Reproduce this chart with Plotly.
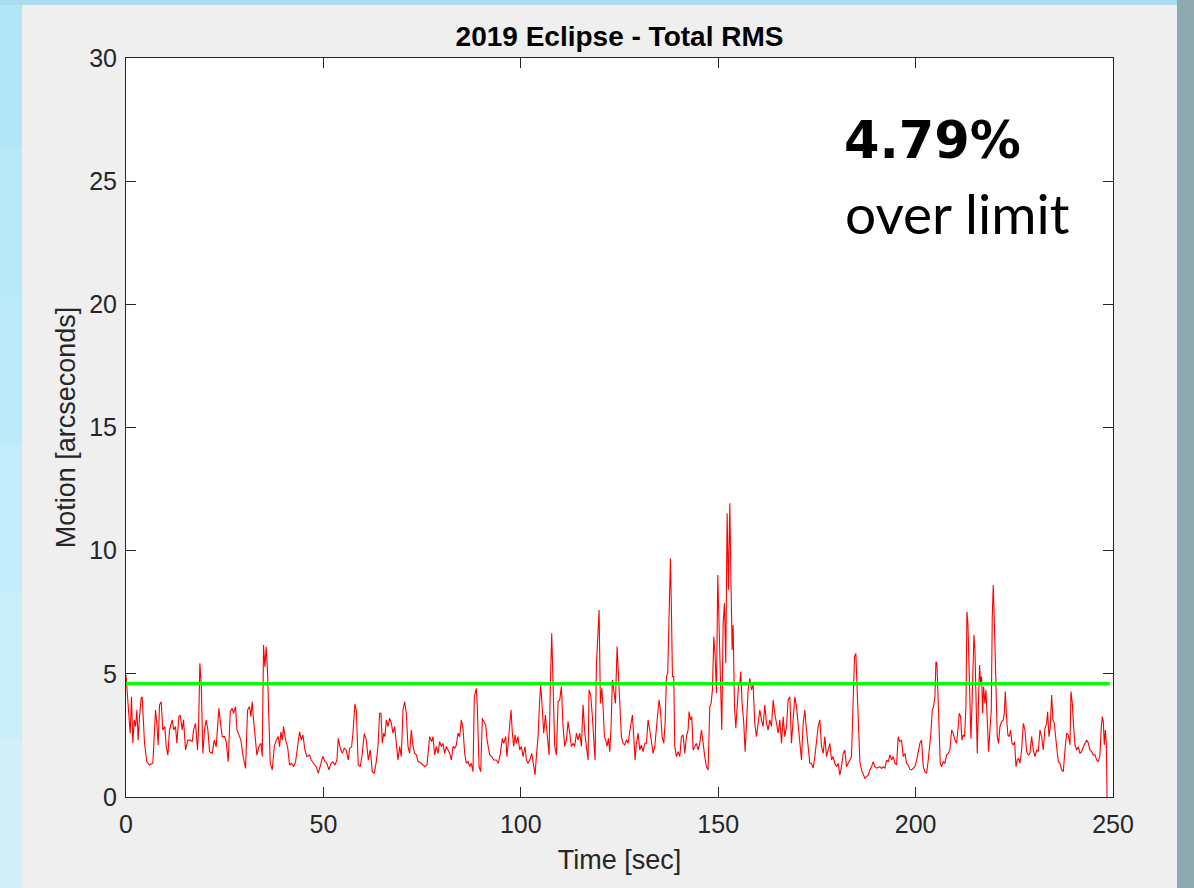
import plotly.graph_objects as go

# ---- Total RMS pointing motion, 2019 eclipse run ----
time_sec = [
    0.0, 0.21, 0.72, 1.06, 1.39, 1.73, 2.07, 2.41, 2.75, 3.08, 3.42, 3.84, 4.10, 4.69, 5.28, 5.96, 6.80,
    7.48, 7.81, 8.15, 8.49, 8.91, 9.33, 9.84, 10.18, 10.60, 11.02, 11.70, 12.12, 12.54, 12.88, 13.39,
    13.73, 14.23, 14.57, 15.08, 15.67, 16.26, 16.77, 17.11, 17.61, 18.12, 18.37, 18.71, 19.05, 19.47,
    19.89, 20.32, 20.74, 21.16, 21.84, 22.34, 22.85, 23.52, 23.95, 24.37, 24.96, 25.38, 25.89, 26.40,
    26.90, 27.24, 27.75, 28.09, 28.59, 29.10, 29.61, 30.28, 30.79, 31.29, 31.63, 31.97, 32.31, 32.82,
    33.15, 33.66, 34.17, 34.51, 34.84, 35.18, 35.52, 35.86, 36.20, 36.53, 37.04, 37.55, 38.05, 38.56,
    38.90, 39.24, 39.58, 39.91, 40.42, 40.93, 41.43, 41.94, 42.45, 42.95, 43.46, 43.97, 44.39, 44.81,
    45.32, 45.83, 46.50, 46.92, 47.52, 48.19, 48.70, 49.20, 49.88, 50.38, 50.89, 51.40, 51.91, 52.41,
    52.92, 53.43, 53.77, 54.27, 54.78, 55.29, 55.79, 56.30, 56.64, 57.14, 57.48, 57.99, 58.33, 58.83,
    59.34, 59.85, 60.35, 60.86, 61.37, 61.87, 62.38, 62.89, 63.39,
    63.82, 64.24, 64.58, 64.92, 65.26, 65.60, 65.93, 66.36, 66.78, 67.20, 67.62, 68.05, 68.47, 68.89,
    69.31, 69.73, 70.16, 70.58, 71.00, 71.42, 71.85, 72.27, 72.69, 73.11, 73.54, 73.96, 74.80, 75.65,
    76.24, 76.91, 77.42, 77.76, 78.18, 78.60, 79.03, 79.45, 79.87, 80.29, 80.72, 81.14, 81.56, 81.98,
    82.41, 82.83, 83.25, 83.67, 84.10, 84.52, 84.94, 85.36, 85.78, 86.21, 86.63, 87.05, 87.47, 87.90,
    88.23, 88.74, 88.99, 89.42, 89.84, 90.26, 90.60, 91.11, 91.44, 91.78, 92.12, 92.63, 93.13, 93.81,
    94.31, 94.82, 95.33, 95.67, 96.17, 96.51, 97.02, 97.52, 97.86, 98.20, 98.54, 98.88, 99.30, 99.72,
    100.14, 100.57, 101.07, 101.41, 101.83, 102.26, 102.76, 103.27, 103.61, 103.95, 104.37, 104.79,
    105.04, 105.47, 105.80, 106.23, 106.65, 107.16, 107.49, 107.83, 108.17, 108.59, 109.01, 109.44,
    109.86, 110.28, 110.70, 111.12, 111.55, 111.97, 112.39, 112.81, 113.24, 113.66, 114.08, 114.50,
    114.93, 115.35, 115.77, 116.19, 116.62, 117.04, 117.29, 117.71, 118.13, 118.47, 118.81, 119.15,
    119.49, 119.83, 120.16, 120.50, 120.84, 121.18, 121.52, 121.85, 122.19, 122.53, 122.87, 123.20,
    123.54, 123.97, 124.39, 124.73, 125.06, 125.49, 125.91, 126.33, 126.75, 127.18,
    127.59, 128.02, 128.27, 128.61, 128.95, 129.28, 129.71, 130.13, 130.55, 130.97, 131.40, 131.82,
    132.24, 132.66, 133.08, 133.51, 133.93, 134.35, 134.77, 135.03, 135.37, 135.79, 136.21, 136.55,
    136.89, 137.22, 137.56, 137.90, 138.15, 138.41, 138.74, 139.00, 139.42, 139.84, 140.26, 140.69,
    141.11, 141.53, 141.95, 142.38, 142.63, 142.97, 143.31, 143.64, 144.07, 144.49, 144.91, 145.33,
    145.76, 146.18, 146.60, 147.02, 147.44, 147.87, 148.20, 148.54, 148.88, 149.22, 149.56, 149.89,
    150.23, 150.57, 150.91, 151.25, 151.58, 151.92, 152.26, 152.60, 152.94, 153.27, 153.53, 153.78,
    154.12, 154.46, 154.79, 155.13, 155.47, 155.72, 156.06, 156.48, 156.82, 157.16, 157.58, 158.00,
    158.43, 158.85, 159.27, 159.69, 160.12, 160.54, 160.96, 161.38, 161.80, 162.23, 162.65, 163.07,
    163.49, 163.92, 164.34, 164.76, 165.18, 165.61, 166.03, 166.45, 166.87, 167.30, 167.72, 168.14,
    168.56, 168.98, 169.41, 169.83, 170.25, 170.67, 171.10, 171.52, 171.94, 172.36, 172.79, 173.21,
    173.63, 174.05, 174.48, 174.90, 175.32, 175.74, 176.17, 176.59, 177.01, 177.43, 177.85, 178.28,
    178.70, 179.12, 179.54, 179.97, 180.39, 180.81, 181.23, 181.66, 182.08, 182.50, 182.92, 183.34,
    183.77, 184.19, 184.53, 184.86, 185.20, 185.54, 185.88, 186.30, 186.72, 187.15, 187.57, 187.99,
    188.41, 188.84, 189.26, 189.68, 190.10, 190.95,
    191.38, 191.80, 192.22, 192.64, 193.07, 193.49, 193.91, 194.33, 194.76, 195.18, 195.60, 196.02,
    196.44, 196.87, 197.29, 197.71, 198.13, 198.56, 198.98, 199.40, 199.82, 200.25, 200.67, 201.09,
    201.51, 201.94, 202.36, 202.78, 203.20, 203.62, 203.88, 204.22, 204.55, 204.89, 205.15, 205.40,
    205.65, 205.99, 206.24, 206.58, 207.00, 207.43, 207.85, 208.27, 208.69, 209.12, 209.54, 209.96,
    210.38, 210.80, 211.06, 211.40, 211.73, 212.07, 212.41, 212.75, 213.00, 213.25, 213.51, 213.76,
    214.01, 214.27, 214.52, 214.78, 215.03, 215.28, 215.62, 215.96, 216.21, 216.46, 216.72, 216.97,
    217.22, 217.56, 217.82, 218.15, 218.49, 218.83, 219.17, 219.42, 219.67, 219.93, 220.18, 220.43,
    220.69, 221.03, 221.36, 221.79, 222.21, 222.46, 222.72, 223.05, 223.39, 223.73, 224.07, 224.40,
    224.74, 225.08, 225.42, 225.76, 226.09, 226.43, 226.85, 227.28, 227.70, 228.12, 228.54, 228.97,
    229.39, 229.81, 230.23, 230.66, 231.08, 231.50, 231.92, 232.34, 232.77, 233.19, 233.44, 233.78,
    234.12, 234.46, 234.79, 235.13, 235.47, 235.81, 236.15, 236.57, 236.99, 237.41, 237.84, 238.26,
    238.68, 239.10, 239.35, 239.69, 240.03, 240.37, 240.79, 241.21, 241.64, 242.06, 242.48, 242.90,
    243.33, 243.75, 244.17, 244.59, 245.01, 245.44, 245.86, 246.28, 246.70, 247.04, 247.30, 247.55,
    247.80, 248.06, 248.31, 248.50,
]

motion_arcsec = [
    4.95, 4.41, 3.53, 2.58, 4.07, 2.18, 3.13, 2.86, 3.53, 2.31, 3.26, 4.01, 4.07, 2.18, 1.43, 1.30, 1.37,
    3.53, 2.99, 2.11, 3.74, 3.87, 2.72, 2.86, 2.04, 1.70, 2.72, 3.13, 2.72, 2.86, 2.18, 3.26,
    3.33, 2.72, 3.13, 1.91, 2.31, 2.31, 2.25, 2.72, 2.99, 1.91, 2.72, 5.43, 4.61, 1.77,
    2.72, 3.13, 2.72, 1.84, 1.77, 2.31, 2.04, 3.60, 2.99, 2.45, 2.45, 2.25, 1.43, 3.46,
    3.60, 3.40, 3.67, 2.72, 2.52, 2.31, 1.70, 1.16, 3.53, 3.67, 3.26, 3.87, 3.13, 2.04,
    1.70, 2.04, 2.18, 1.64, 6.17, 5.29, 6.10, 5.02, 2.72, 1.37, 1.10, 2.04, 2.31, 2.45,
    2.04, 2.65, 2.31, 2.86, 2.31, 2.04, 1.30, 1.37, 1.23, 1.43, 2.04, 2.65, 2.31, 2.52,
    1.91, 1.64, 1.70, 1.50, 1.37, 1.23, 0.96, 1.30, 1.66, 1.43, 1.37, 1.10, 1.37, 1.43,
    1.30, 1.50, 2.38, 1.98, 1.77, 1.98, 1.91, 1.50, 1.98, 2.04, 2.58, 3.78, 3.53, 1.30,
    1.23, 1.77, 2.58, 2.31, 1.50, 1.91, 1.03, 0.96, 1.43,
    2.05, 3.40, 3.40, 2.18, 2.59, 2.45, 3.13, 2.86, 3.20, 3.00, 2.59, 2.86, 2.18, 1.50,
    2.05, 1.64, 3.53, 3.87, 3.40, 2.05, 1.77, 2.72, 2.05, 1.77, 1.71, 1.44, 1.37, 1.23,
    1.30, 2.45, 2.25, 2.45, 1.71, 2.05, 1.77, 2.25, 2.05, 2.18, 1.77, 2.05, 1.91, 1.77,
    1.50, 2.05, 1.98, 2.11, 2.59, 2.45, 3.13, 2.79, 1.77, 1.37, 1.44, 1.23, 1.37, 1.03,
    4.08, 4.41, 3.67, 1.23, 1.03, 3.20, 3.06, 2.93, 2.32, 2.05, 1.71, 1.64, 1.50, 1.50,
    1.37, 1.77, 2.38, 2.18, 2.45, 1.64, 2.52, 3.53, 2.59, 2.05, 2.52, 2.18, 2.45, 1.91,
    2.05, 1.64, 2.05, 1.50, 1.37, 1.50, 1.77, 1.17, 0.90, 1.64, 2.45, 3.94,
    4.55, 3.53, 2.59, 3.33, 2.59, 1.71, 4.62, 6.65, 4.62, 2.05, 1.71, 3.87,
    3.94, 4.48, 2.86, 2.05, 2.32, 3.06, 2.59, 2.05, 2.18, 2.05, 2.59, 2.32,
    2.59, 2.05, 3.74, 2.65, 2.05, 1.50, 4.35, 4.14, 3.26, 2.18, 1.50, 5.36,
    6.65, 7.59, 3.80, 4.41, 3.67, 2.45, 2.32, 2.05, 2.38, 1.84, 2.86, 4.75,
    4.35, 3.80, 6.11, 4.89, 3.40, 2.45, 2.18, 2.11, 2.32, 2.18,
    2.65, 2.99, 3.33, 2.45, 1.50, 2.18, 2.59, 1.91, 2.11, 1.84, 2.18, 2.18,
    3.13, 2.72, 2.18, 1.77, 2.04, 2.99, 3.53, 3.94, 3.53, 2.45, 2.18, 2.99,
    4.89, 5.02, 7.73, 9.69, 7.59, 4.89, 4.89, 2.04, 1.64, 1.84, 1.64, 2.45,
    2.52, 1.77, 2.45, 2.72, 3.47, 3.13, 3.26, 1.91, 2.04, 2.18, 1.91, 2.18,
    2.72, 2.04, 1.64, 1.23, 1.10, 3.67, 3.80, 4.35, 6.51, 5.70, 4.21, 9.01,
    7.05, 4.62, 2.72, 7.05, 7.86, 5.43, 11.52, 8.41, 11.92, 8.41, 5.97, 6.98,
    3.67, 2.79, 3.80, 4.48, 4.62, 5.09, 3.80, 2.99, 1.84, 3.26, 4.35, 4.82,
    4.35, 4.55, 2.99, 2.45, 3.13, 3.53, 3.13, 2.86, 3.74, 2.99, 2.72, 3.13,
    2.86, 3.94, 3.40, 2.99, 2.59, 3.13, 2.18, 3.26, 2.45, 2.86, 3.94, 4.07,
    2.18, 3.13, 4.07, 3.67, 2.99, 2.18, 1.50, 2.99, 3.53, 2.72, 1.91, 1.37,
    1.37, 1.17, 1.64, 2.18, 2.86, 3.13, 2.04, 1.77, 2.45, 1.64, 1.91, 2.18,
    1.50, 1.64, 1.37, 1.23, 1.37, 0.89, 1.23, 1.77, 1.91, 1.23, 1.37, 1.50,
    1.64, 3.94, 5.70, 5.83, 4.35, 2.59, 1.43, 1.10, 0.96, 0.76, 0.83, 0.89,
    1.10, 1.23, 1.43, 1.23, 1.17, 1.23,
    1.16, 1.23, 1.16, 1.50, 1.43, 1.71, 1.50, 1.64, 1.37, 1.30, 2.45, 2.25,
    2.31, 1.64, 1.77, 1.37, 1.30, 1.12, 1.10, 1.16, 1.23, 1.50, 1.84, 2.18,
    2.31, 1.23, 1.03, 0.96, 1.50, 2.04, 2.59, 3.53, 3.67, 4.07, 5.49, 5.43,
    4.34, 3.13, 1.37, 1.23, 1.43, 1.37, 1.71, 1.77, 1.91, 2.72, 2.59, 2.31,
    2.18, 2.86, 3.40, 3.26, 2.31, 2.52, 2.45, 3.67, 7.52, 7.05, 5.16, 3.53,
    2.38, 3.67, 5.43, 6.58, 5.97, 3.53, 1.77, 4.07, 5.36, 4.61, 4.89, 3.40,
    4.48, 3.80, 4.34, 3.13, 1.84, 2.72, 3.53, 7.32, 8.61, 7.19, 5.63, 3.26,
    2.45, 2.18, 2.86, 3.06, 3.13, 3.40, 4.28, 3.19, 2.52, 2.45, 2.72, 2.18,
    2.11, 2.25, 1.23, 1.50, 1.57, 1.37, 1.91, 2.99, 2.72, 1.84, 1.71, 1.77,
    2.45, 1.91, 1.64, 1.91, 1.84, 2.72, 2.45, 1.91, 2.79, 2.99, 3.46, 2.45,
    2.86, 4.14, 3.13, 2.99, 2.31, 1.91, 1.43, 1.37, 1.10, 1.03, 1.91, 2.59,
    2.52, 2.11, 4.28, 3.80, 2.86, 2.11, 1.91, 2.04, 1.77, 1.84, 2.04, 2.18,
    2.31, 2.18, 1.91, 1.84, 1.71, 1.71, 1.50, 1.43, 1.71, 2.86, 3.26, 3.06,
    2.11, 2.72, 2.18, 0.0,
]

# Motion limit drawn across the full run
limit_time = [0.0, 249.2]
limit_value = [4.6, 4.6]

x_ticks = [0, 50, 100, 150, 200, 250]
y_ticks = [0, 5, 10, 15, 20, 25, 30]

# ---- figure geometry (pixels) ----
W, H = 1194, 888
ML, MR, MT, MB = 126, 81, 58, 91
PW, PH = W - ML - MR, H - MT - MB


def px_x(px):
    return (px - ML) / PW


def px_y(py):
    return (H - MB - py) / PH


AXIS_COLOR = "#262626"
FONT = "Liberation Sans, Arial, sans-serif"

fig = go.Figure()
fig.add_trace(go.Scatter(
    x=time_sec, y=motion_arcsec, mode="lines",
    line=dict(color="#ff0000", width=1.1), hoverinfo="x+y", showlegend=False,
))
fig.add_trace(go.Scatter(
    x=limit_time, y=limit_value, mode="lines",
    line=dict(color="#00ff00", width=3.2), showlegend=False,
))

# slide surround: blue strips framing the grey figure window
shapes = []
left_band = ["#b2e5f7", "#b7e8f8", "#bdeaf9", "#c4ecf9", "#caeefa", "#d1f0fa"]
n = len(left_band)
for i, c in enumerate(left_band):
    y_top = i * H / n
    y_bot = (i + 1) * H / n
    shapes.append(dict(type="rect", xref="paper", yref="paper", layer="below",
                       x0=px_x(0), x1=px_x(22), y0=px_y(y_bot), y1=px_y(y_top),
                       fillcolor=c, line=dict(width=0)))
shapes.append(dict(type="rect", xref="paper", yref="paper", layer="below",
                   x0=px_x(0), x1=px_x(W), y0=px_y(5), y1=px_y(0),
                   fillcolor="#a9dcee", line=dict(width=0)))
shapes.append(dict(type="rect", xref="paper", yref="paper", layer="below",
                   x0=px_x(1177), x1=px_x(W), y0=px_y(H), y1=px_y(0),
                   fillcolor="#8fa9b1", line=dict(width=0)))

annotations = [
    dict(text="<b>4.79%</b>", xref="paper", yref="paper", x=px_x(842), y=px_y(140),
         xanchor="left", yanchor="middle", showarrow=False,
         font=dict(family="DejaVu Sans, sans-serif", size=51, color="#000000")),
    dict(text="over limit", xref="paper", yref="paper", x=px_x(843), y=px_y(213),
         xanchor="left", yanchor="middle", showarrow=False,
         font=dict(family="Lato, sans-serif", size=55, color="#000000")),
]

axis_common = dict(
    showline=True, linecolor=AXIS_COLOR, linewidth=1, mirror="ticks",
    ticks="inside", ticklen=10, tickwidth=1, tickcolor=AXIS_COLOR,
    showgrid=False, zeroline=False,
    tickfont=dict(family=FONT, size=25, color=AXIS_COLOR),
)

fig.update_layout(
    width=W, height=H, autosize=False,
    margin=dict(l=ML, r=MR, t=MT, b=MB, pad=0),
    paper_bgcolor="#efefef", plot_bgcolor="#ffffff",
    title=dict(text="<b>2019 Eclipse - Total RMS</b>", x=0.5, xref="paper", xanchor="center",
               y=(H - 36) / H, yref="container", yanchor="middle",
               font=dict(family=FONT, size=28, color="#000000")),
    xaxis=dict(range=[0, 250], tickvals=x_ticks, ticktext=[str(v) for v in x_ticks],
               ticklabelstandoff=5,
               title=dict(text="Time [sec]", standoff=13,
                          font=dict(family=FONT, size=27, color=AXIS_COLOR)),
               **axis_common),
    yaxis=dict(range=[0, 30], tickvals=y_ticks, ticktext=[str(v) for v in y_ticks],
               ticklabelstandoff=3,
               title=dict(text="Motion [arcseconds]", standoff=5,
                          font=dict(family=FONT, size=27, color=AXIS_COLOR)),
               **axis_common),
    shapes=shapes,
    annotations=annotations,
)

fig.write_html("out.html")
